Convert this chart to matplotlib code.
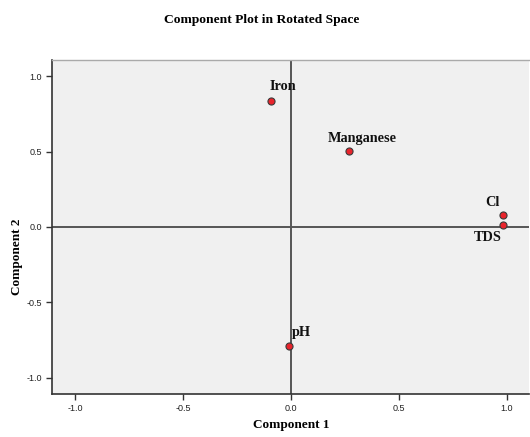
import matplotlib
matplotlib.use("Agg")
import matplotlib.pyplot as plt

variables = ["Iron", "Manganese", "Cl", "TDS", "pH"]
comp1 = [-0.094, 0.269, 0.983, 0.983, -0.009]
comp2 = [0.838, 0.502, 0.082, 0.011, -0.788]
label_offsets = {"Iron": (12, 14), "Manganese": (13, 13), "Cl": (-10, 12),
                 "TDS": (-15, -12), "pH": (12, 13)}
ticks = [-1.0, -0.5, 0.0, 0.5, 1.0]

W, H = 530, 437
fig = plt.figure(figsize=(W / 100, H / 100), dpi=100)
fig.patch.set_facecolor("white")
left, right, top, bottom = 51.5, 529, 60, 394
ax = fig.add_axes([left / W, 1 - bottom / H, (right - left) / W, (bottom - top) / H])
ax.set_facecolor("#F0F0F0")
ax.set_xlim(-1.111, 1.104)
ax.set_ylim(-1.108, 1.108)

ax.axhline(0, color="#555555", lw=1.4, zorder=1)
ax.axvline(0, color="#555555", lw=1.4, zorder=1)

ax.scatter(comp1, comp2, s=26, c="#E8242C", edgecolors="#3a3a3a", linewidths=0.8, zorder=3)
serif = ["Liberation Serif", "DejaVu Serif"]
for name, x, y in zip(variables, comp1, comp2):
    dx, dy = label_offsets[name]
    ax.annotate(name, (x, y), xytext=(dx * 0.72, dy * 0.72), textcoords="offset points",
                ha="center", va="center", fontsize=10.3, fontweight="bold",
                family=serif, color="#111111", zorder=4)

ax.set_xticks(ticks)
ax.set_yticks(ticks)
ax.set_xticklabels([f"{t:.1f}" for t in ticks], family=["Liberation Sans"], fontsize=6.5, color="#222222")
ax.set_yticklabels([f"{t:.1f}" for t in ticks], family=["Liberation Sans"], fontsize=6.5, color="#222222")
ax.tick_params(direction="out", length=4, width=1, color="#333333", pad=3)

for s in ["left", "bottom"]:
    ax.spines[s].set_color("#333333")
    ax.spines[s].set_linewidth(1.2)
ax.spines["top"].set_color("#AAAAAA")
ax.spines["top"].set_linewidth(1.0)
ax.spines["right"].set_visible(False)

fig.text(262 / W, 1 - 20 / H, "Component Plot in Rotated Space",
         ha="center", va="center", fontsize=9.7, fontweight="bold", family=serif)
fig.text(291 / W, 1 - 425 / H, "Component 1", ha="center", va="center",
         fontsize=9.5, fontweight="bold", family=serif)
fig.text(17 / W, 1 - 257 / H, "Component 2", ha="center", va="center", rotation=90,
         fontsize=9.5, fontweight="bold", family=serif)

fig.savefig("out.png", dpi=100)
